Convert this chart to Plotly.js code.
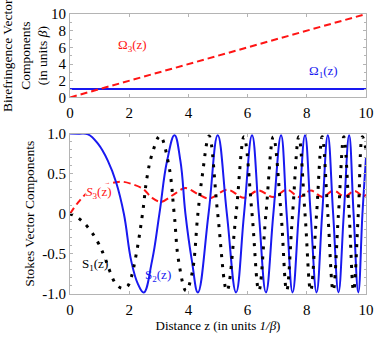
<!DOCTYPE html>
<html>
<head>
<meta charset="utf-8">
<script src="https://cdn.plot.ly/plotly-3.0.1.min.js"></script>
<style>html,body{margin:0;padding:0;background:#fff;}#chart{width:374px;height:337px;}</style>
</head>
<body>
<div id="chart"></div>
<script>
// ---- Top panel: birefringence vector components ----
var zOmega3 = [0, 10];
var omega3 = [0, 10];
var zOmega1 = [0, 10];
var omega1 = [1, 1];

// ---- Bottom panel: Stokes vector components ----
var zS1 = [0, 0.27, 0.61, 0.95, 1.17, 1.34, 1.56, 1.78, 1.95, 2.07, 2.24, 2.45, 2.60, 2.77, 3.04, 3.33, 3.52, 3.67, 3.92, 4.12, 4.32, 4.46, 4.70, 4.99, 5.30, 5.61, 5.88, 6.15, 6.38, 6.62, 6.87, 7.13, 7.32, 7.52, 7.73, 7.94, 8.13, 8.33, 8.52, 8.71, 8.89, 9.07, 9.25, 9.43, 9.58, 9.74, 9.88, 10];
var s1 = [0, -0.05, -0.17, -0.36, -0.54, -0.71, -0.88, -0.93, -0.90, -0.79, -0.50, 0, 0.45, 0.74, 0.97, 0.62, 0, -0.59, -0.96, -0.75, 0, 0.45, 0.97, 0, -0.96, 0, 0.96, 0, -0.96, 0, 0.96, 0, -0.96, 0, 0.96, 0, -0.96, 0, 0.96, 0, -0.96, 0, 0.96, 0, -0.96, 0, 0.96, 0.80];

var zS2 = [0, 0.30, 0.61, 0.95, 1.28, 1.56, 1.82, 2.07, 2.30, 2.49, 2.77, 3.02, 3.28, 3.53, 3.73, 3.90, 4.12, 4.32, 4.68, 4.99, 5.30, 5.61, 5.88, 6.15, 6.38, 6.62, 6.87, 7.13, 7.32, 7.52, 7.73, 7.94, 8.13, 8.33, 8.52, 8.71, 8.89, 9.07, 9.25, 9.43, 9.58, 9.74, 9.88, 10];
var s2 = [1, 0.998, 0.99, 0.87, 0.66, 0.39, 0, -0.59, -0.88, -0.98, -0.59, 0, 0.66, 0.98, 0.66, 0, -0.59, -0.98, 0, 0.98, 0, -0.98, 0, 0.98, 0, -0.98, 0, 0.98, 0, -0.98, 0, 0.98, 0, -0.98, 0, 0.98, 0, -0.98, 0, 0.98, 0, -0.98, 0, 0.70];

var zS3 = [0, 0.27, 0.61, 1.00, 1.51, 1.76, 2.10, 2.47, 2.77, 3.08, 3.50, 3.90, 4.35, 4.70, 5.32, 5.88, 6.36, 6.87, 7.33, 7.74, 8.14, 8.53, 8.90, 9.27, 9.62, 9.90, 10];
var s3 = [0, 0.14, 0.27, 0.34, 0.39, 0.40, 0.37, 0.31, 0.20, 0.15, 0.24, 0.32, 0.24, 0.19, 0.30, 0.20, 0.29, 0.21, 0.30, 0.21, 0.29, 0.21, 0.29, 0.215, 0.285, 0.215, 0.24];

var xTicks = [0, 2, 4, 6, 8, 10];
var topYTicks = [0, 2, 4, 6, 8, 10];
var botYTicks = [-1, -0.5, 0, 0.5, 1];
var botYTickText = ['-1.0', '-0.5', '0', '0.5', '1.0'];

var BLUE = 'rgb(25,25,240)';
var RED = 'rgb(255,20,20)';
var GRAY = '#b4b4b4';
var FONT = 'Liberation Serif';

var traces = [
  {x: zOmega1, y: omega1, xaxis: 'x2', yaxis: 'y2', mode: 'lines',
   line: {color: BLUE, width: 2}, name: 'Ω1(z)'},
  {x: zOmega3, y: omega3, xaxis: 'x2', yaxis: 'y2', mode: 'lines',
   line: {color: RED, width: 2, dash: '7px,4px'}, name: 'Ω3(z)'},
  {x: zS3, y: s3, xaxis: 'x', yaxis: 'y', mode: 'lines',
   line: {color: RED, width: 2, dash: '7px,4px', shape: 'spline', smoothing: 1.0}, name: 'S3(z)'},
  {x: zS2, y: s2, xaxis: 'x', yaxis: 'y', mode: 'lines',
   line: {color: BLUE, width: 2, shape: 'spline', smoothing: 1.2}, name: 'S2(z)'},
  {x: zS1, y: s1, xaxis: 'x', yaxis: 'y', mode: 'lines',
   line: {color: '#000', width: 3, dash: '3px,7px', shape: 'spline', smoothing: 1.1}, name: 'S1(z)'}
];

var axCommon = {
  showgrid: false, zeroline: false, showline: true, linecolor: GRAY, linewidth: 1,
  mirror: 'ticks', ticks: 'inside', ticklen: 3, tickcolor: GRAY,
  tickfont: {family: FONT, size: 15, color: '#000'}
};

function ax(extra) { var o = {}; for (var k in axCommon) o[k] = axCommon[k]; for (var k2 in extra) o[k2] = extra[k2]; return o; }

var layout = {
  width: 374, height: 337,
  margin: {l: 70, r: 8, t: 14, b: 43},
  paper_bgcolor: '#fff', plot_bgcolor: '#fff',
  showlegend: false,
  font: {family: FONT, size: 13, color: '#000'},
  xaxis: ax({domain: [0, 1], anchor: 'y', range: [0, 10], tickvals: xTicks, ticklabelstandoff: 2,
    title: {text: 'Distance z (in units <i>1/β</i>)', font: {family: FONT, size: 13, color: '#000'}, standoff: 2}}),
  yaxis: ax({domain: [0, 0.573], anchor: 'x', range: [-1, 1], tickvals: botYTicks, ticktext: botYTickText,
    minor: {ticks: 'inside', ticklen: 2, dtick: 0.1, tickcolor: GRAY},
    title: {text: 'Stokes Vector Components', font: {family: FONT, size: 13.5, color: '#000'}, standoff: 4}}),
  xaxis2: ax({domain: [0, 1], anchor: 'y2', range: [0, 10], tickvals: xTicks, ticklabelstandoff: 2}),
  yaxis2: ax({domain: [0.702, 1], anchor: 'x2', range: [0, 10], tickvals: topYTicks,
    minor: {ticks: 'inside', ticklen: 2, dtick: 1, tickcolor: GRAY},
    title: {text: 'Birefringence Vector<br>Components<br>(in units <i>β</i>)', font: {family: FONT, size: 13.5, color: '#000'}, standoff: 4}}),
  annotations: [
    {xref: 'x2', yref: 'y2', x: 2.11, y: 6.24, text: 'Ω<sub>3</sub>(z)', showarrow: false,
     font: {family: FONT, size: 13, color: RED}},
    {xref: 'x2', yref: 'y2', x: 8.55, y: 3.13, text: 'Ω<sub>1</sub>(z)', showarrow: false,
     font: {family: FONT, size: 13, color: BLUE}},
    {xref: 'x', yref: 'y', x: 0.95, y: 0.265, text: '<i>S</i><sub>3</sub>(z)', showarrow: false,
     bgcolor: '#fff', borderpad: 0,
     font: {family: FONT, size: 13, color: RED}},
    {xref: 'x', yref: 'y', x: 0.84, y: -0.63, text: 'S<sub>1</sub>(z)', showarrow: false,
     font: {family: FONT, size: 13, color: '#000'}},
    {xref: 'x', yref: 'y', x: 2.97, y: -0.77, text: 'S<sub>2</sub>(z)', showarrow: false,
     font: {family: FONT, size: 13, color: BLUE}}
  ]
};

Plotly.newPlot('chart', traces, layout, {displayModeBar: false, staticPlot: true});
</script>
</body>
</html>
